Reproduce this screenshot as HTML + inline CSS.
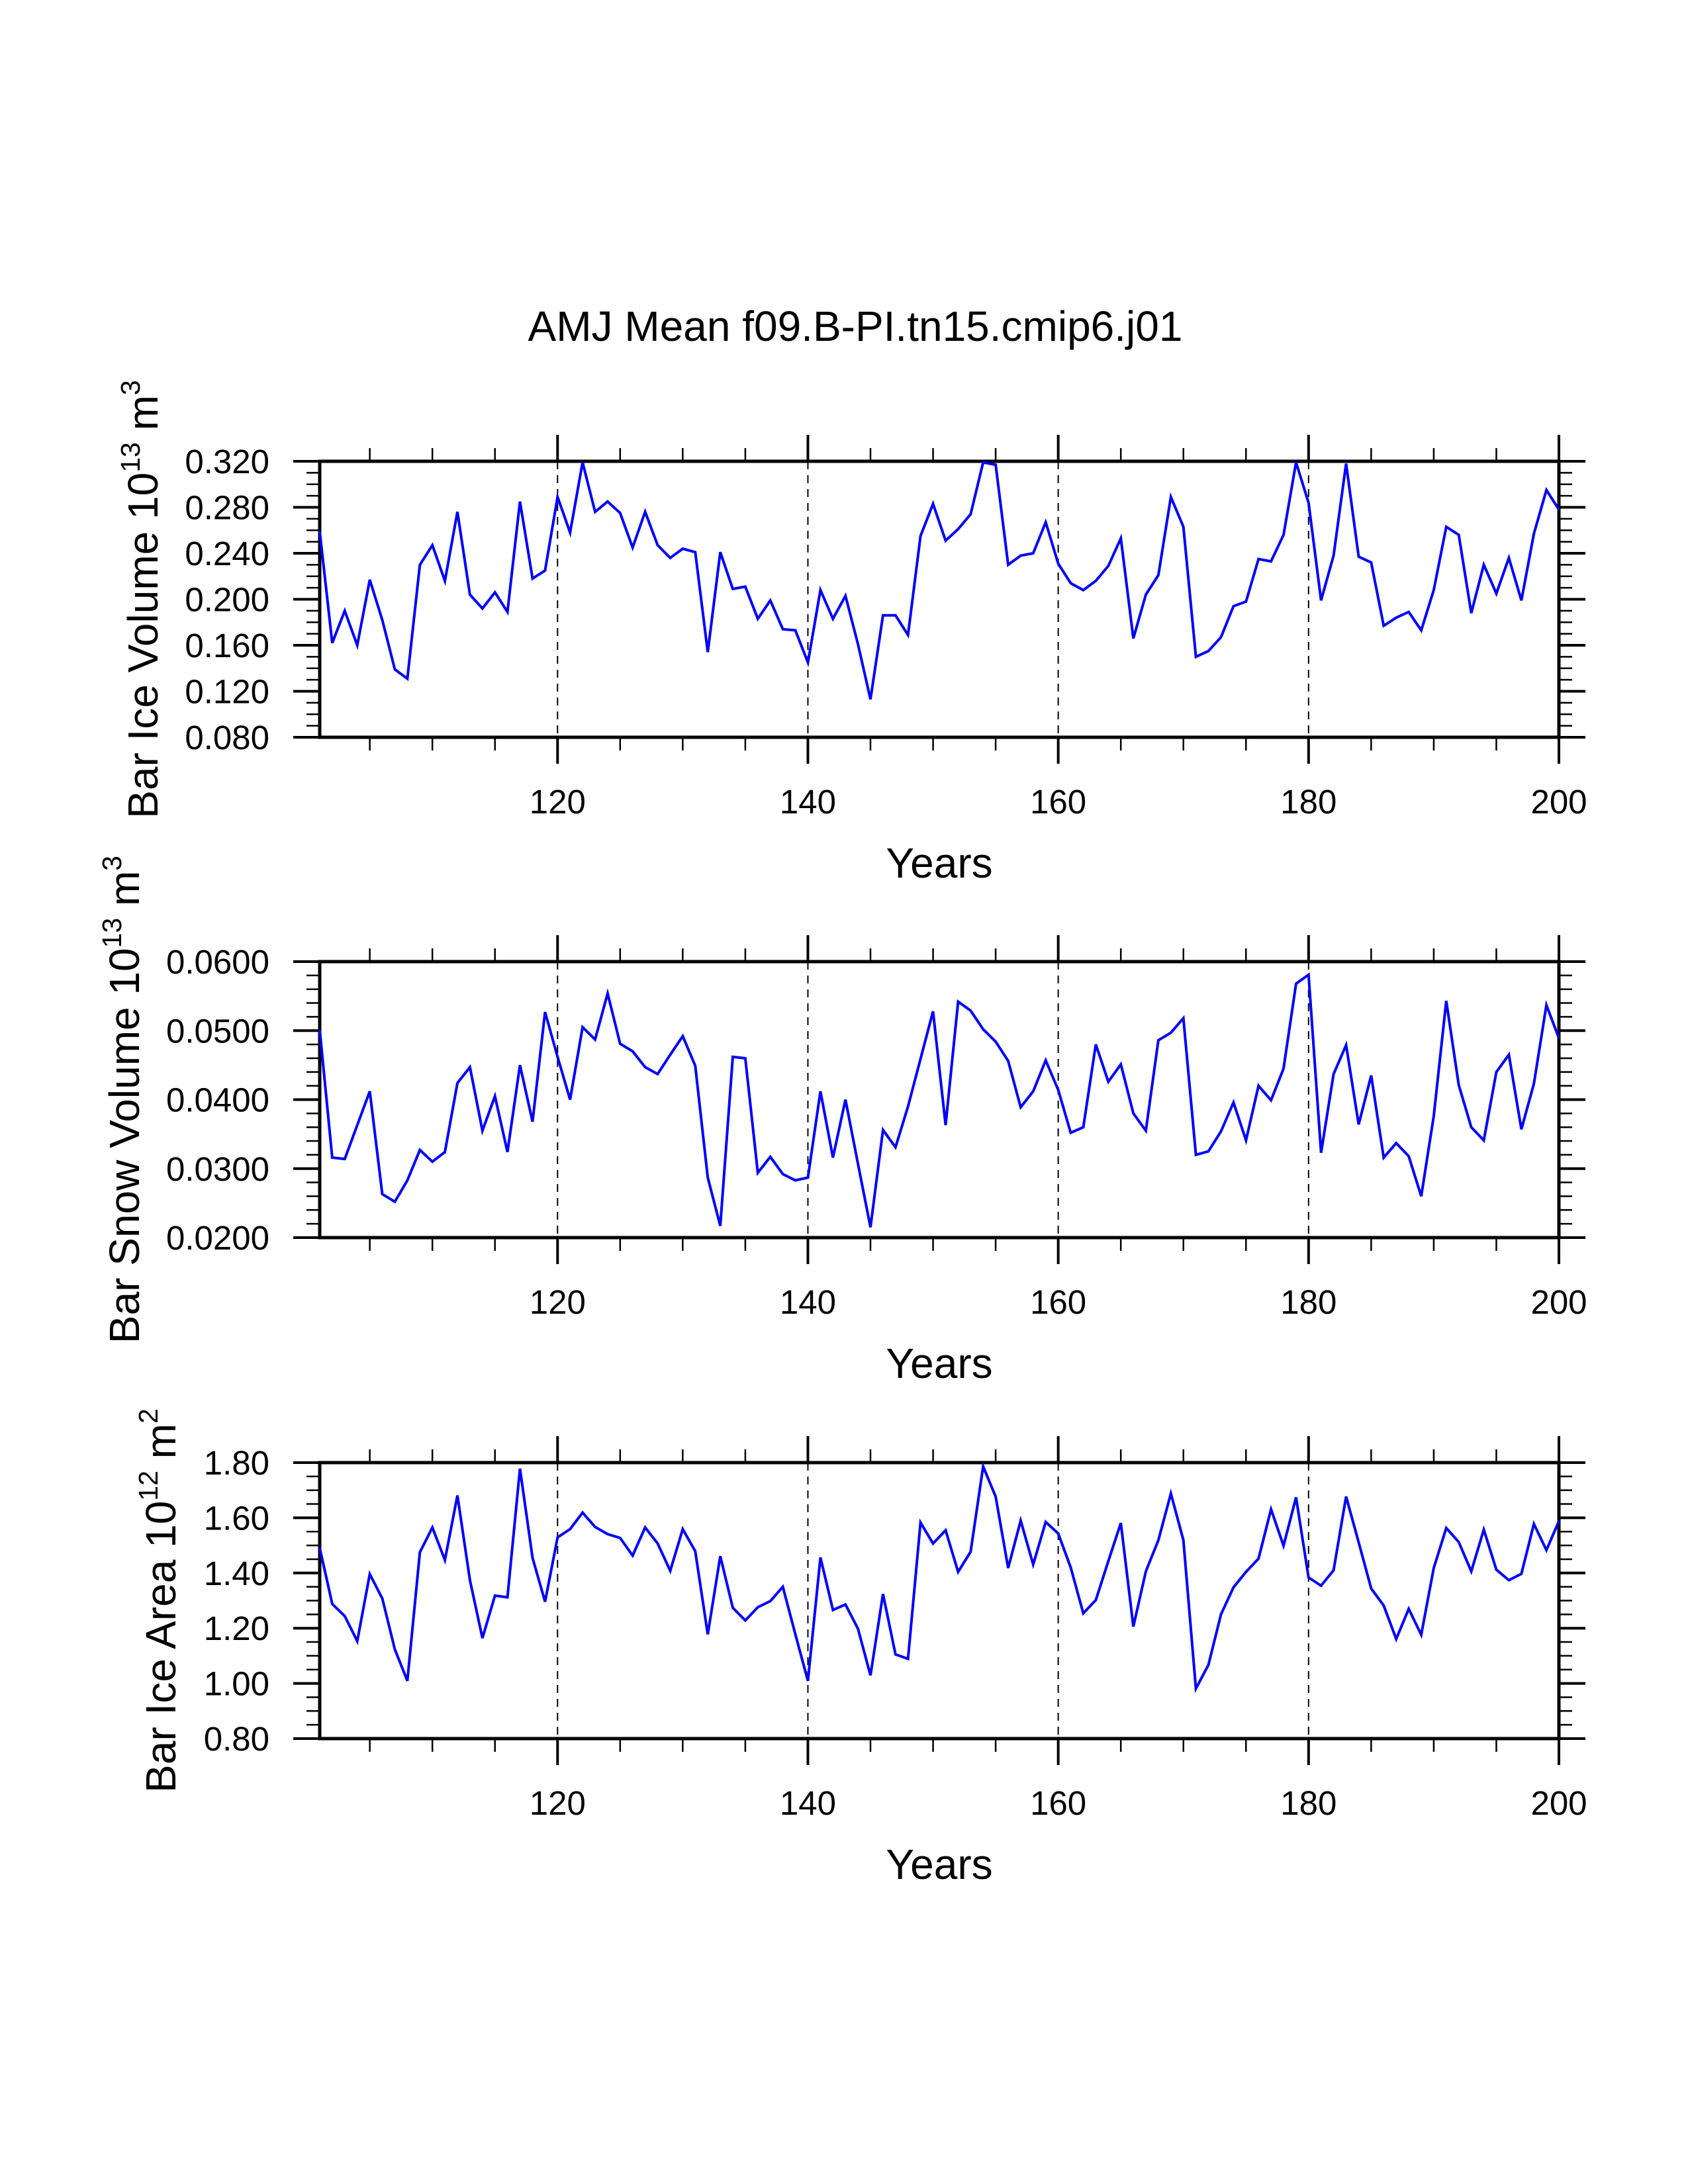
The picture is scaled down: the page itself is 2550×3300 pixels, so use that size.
<!DOCTYPE html>
<html><head><meta charset="utf-8"><style>
html,body{margin:0;padding:0;background:#fff;}
svg{display:block;font-family:"Liberation Sans",sans-serif;}
</style></head><body>
<svg id="chart" width="2550" height="3300" viewBox="0 0 2550 3300" xmlns="http://www.w3.org/2000/svg">
<rect width="2550" height="3300" fill="#fff"/>
<text x="1292" y="515" font-size="64" text-anchor="middle">AMJ Mean f09.B-PI.tn15.cmip6.j01</text>
</svg>
<script>
const years = [];
for (let y = 101; y <= 200; y++) years.push(y);
const xTickLabels = ["120","140","160","180","200"];
const iceVolume = [0.259,0.162,0.190,0.160,0.217,0.182,0.139,0.131,0.230,0.247,0.216,0.276,0.204,0.192,0.206,0.189,0.285,0.218,0.225,0.289,0.258,0.319,0.276,0.285,0.275,0.245,0.276,0.247,0.236,0.244,0.241,0.154,0.241,0.209,0.211,0.183,0.199,0.174,0.173,0.145,0.208,0.183,0.203,0.161,0.113,0.186,0.186,0.169,0.255,0.283,0.251,0.261,0.274,0.319,0.317,0.230,0.238,0.240,0.267,0.231,0.214,0.208,0.216,0.229,0.253,0.166,0.204,0.221,0.289,0.263,0.150,0.155,0.167,0.194,0.198,0.235,0.233,0.256,0.319,0.284,0.199,0.238,0.318,0.237,0.232,0.177,0.184,0.189,0.173,0.208,0.263,0.256,0.188,0.230,0.205,0.236,0.199,0.257,0.295,0.278];
const snowVolume = [0.0501,0.0316,0.0314,0.0363,0.0412,0.0263,0.0252,0.0283,0.0327,0.0310,0.0324,0.0424,0.0447,0.0355,0.0405,0.0324,0.0450,0.0368,0.0527,0.0462,0.0400,0.0505,0.0487,0.0554,0.0481,0.0470,0.0447,0.0437,0.0465,0.0492,0.0449,0.0287,0.0217,0.0462,0.0460,0.0294,0.0317,0.0292,0.0283,0.0287,0.0412,0.0316,0.0400,0.0307,0.0215,0.0356,0.0331,0.0390,0.0459,0.0528,0.0363,0.0542,0.0529,0.0502,0.0484,0.0456,0.0389,0.0412,0.0457,0.0414,0.0352,0.0360,0.0480,0.0426,0.0451,0.0380,0.0355,0.0486,0.0497,0.0518,0.0320,0.0325,0.0354,0.0396,0.0341,0.0420,0.0399,0.0445,0.0568,0.0581,0.0323,0.0437,0.0479,0.0364,0.0435,0.0316,0.0337,0.0318,0.0260,0.0376,0.0543,0.0421,0.0360,0.0341,0.0440,0.0465,0.0357,0.0423,0.0537,0.0489];
const iceArea = [1.491,1.288,1.244,1.153,1.396,1.308,1.123,1.009,1.475,1.565,1.447,1.681,1.374,1.164,1.318,1.312,1.778,1.455,1.296,1.529,1.559,1.619,1.567,1.541,1.527,1.463,1.565,1.507,1.408,1.559,1.479,1.178,1.461,1.274,1.228,1.276,1.298,1.350,1.178,1.009,1.456,1.266,1.286,1.198,1.029,1.324,1.105,1.089,1.583,1.507,1.555,1.404,1.477,1.786,1.677,1.418,1.590,1.431,1.585,1.543,1.420,1.254,1.302,1.443,1.581,1.206,1.406,1.519,1.688,1.519,0.981,1.067,1.250,1.348,1.404,1.452,1.631,1.499,1.674,1.384,1.354,1.410,1.677,1.511,1.344,1.282,1.161,1.270,1.176,1.418,1.563,1.512,1.406,1.557,1.412,1.374,1.397,1.578,1.483,1.588];
const yTicks1 = ["0.080","0.120","0.160","0.200","0.240","0.280","0.320"];
const yTicks2 = ["0.0200","0.0300","0.0400","0.0500","0.0600"];
const yTicks3 = ["0.80","1.00","1.20","1.40","1.60","1.80"];

const NS = "http://www.w3.org/2000/svg";
const svg = document.getElementById("chart");
const X0 = 483, X1 = 2355, XMIN = 101, XMAX = 200, H = 417;
function xs(v){ return X0 + (v - XMIN) / (XMAX - XMIN) * (X1 - X0); }
function mk(tag, attrs, parent){
  const e = document.createElementNS(NS, tag);
  for (const k in attrs) e.setAttribute(k, attrs[k]);
  (parent || svg).appendChild(e);
  return e;
}
function panel(cfg){
  const g = mk("g", {});
  
  
  const top = cfg.top, bot = top + H;
  const ys = v => bot - (v - cfg.ymin) / (cfg.ymax - cfg.ymin) * H;
  [120,140,160,180].forEach(yr => {
    const l = mk("line", {x1: xs(yr), x2: xs(yr), y1: top, y2: bot, stroke: "#000", "stroke-width": 2, "stroke-dasharray": "12 9"}, g);
    
    
  });
  for (let yr = 105; yr <= 200; yr += 5) {
    const major = yr % 20 === 0;
    const len = major ? 40 : 20;
    mk("line", {x1: xs(yr), x2: xs(yr), y1: bot, y2: bot + len, stroke: "#000", "stroke-width": major ? 4 : 2.5}, g);
    mk("line", {x1: xs(yr), x2: xs(yr), y1: top, y2: top - len, stroke: "#000", "stroke-width": major ? 4 : 2.5}, g);
  }
  xTickLabels.forEach(lbl => {
    const t = mk("text", {x: xs(+lbl), y: bot + 115, "font-size": 51, "text-anchor": "middle"}, g);
    t.textContent = lbl;
    
    
  });
  const nMinor = Math.round((cfg.ymax - cfg.ymin) / cfg.minor);
  for (let i = 0; i <= nMinor; i++) {
    const v = cfg.ymin + i * cfg.minor;
    const major = i % cfg.per === 0;
    const len = major ? 40 : 20;
    const y = ys(v);
    mk("line", {x1: X0, x2: X0 - len, y1: y, y2: y, stroke: "#000", "stroke-width": major ? 4 : 2.5}, g);
    mk("line", {x1: X1, x2: X1 + len, y1: y, y2: y, stroke: "#000", "stroke-width": major ? 4 : 2.5}, g);
  }
  cfg.labels.forEach(lbl => {
    const t = mk("text", {x: 407, y: ys(+lbl) + 18, "font-size": 51, "text-anchor": "end"}, g);
    t.textContent = lbl;
    
    
  });
  const fr = mk("rect", {x: X0, y: top, width: X1 - X0, height: H, fill: "none", stroke: "#000", "stroke-width": 5}, g);
  
  
  const pts = cfg.data.map((v, i) => xs(years[i]).toFixed(1) + "," + ys(v).toFixed(1)).join(" ");
  const pl = mk("polyline", {points: pts, fill: "none", stroke: "#0000ff", "stroke-width": 4, "stroke-linejoin": "miter"}, g);
  
  
  const xt = mk("text", {x: (X0 + X1) / 2, y: bot + 212, "font-size": 64, "text-anchor": "middle"}, g);
  xt.textContent = "Years";
  
  
  const cy = top + H / 2;
  const yt = mk("text", {x: cfg.tx, y: cy, "font-size": 64, "text-anchor": "middle", transform: "rotate(-90 " + cfg.tx + " " + cy + ")"}, g);
  
  
  const a = mk("tspan", {}, yt); a.textContent = cfg.title + " 10";
  const b = mk("tspan", {dy: -27, "font-size": 41}, yt); b.textContent = cfg.exp;
  const c = mk("tspan", {dy: 27}, yt); c.textContent = " m";
  const d = mk("tspan", {dy: -27, "font-size": 41}, yt); d.textContent = cfg.unitExp;
}
panel({name: "ice-volume-panel", top: 697, ymin: 0.08, ymax: 0.32, minor: 0.01, per: 4, labels: yTicks1, data: iceVolume, title: "Bar Ice Volume", exp: "13", unitExp: "3", tx: 238});
panel({name: "snow-volume-panel", top: 1453, ymin: 0.02, ymax: 0.06, minor: 0.002, per: 5, labels: yTicks2, data: snowVolume, title: "Bar Snow Volume", exp: "13", unitExp: "3", tx: 210});
panel({name: "ice-area-panel", top: 2210, ymin: 0.8, ymax: 1.8, minor: 0.05, per: 4, labels: yTicks3, data: iceArea, title: "Bar Ice Area", exp: "12", unitExp: "2", tx: 265});
</script>
</body></html>
